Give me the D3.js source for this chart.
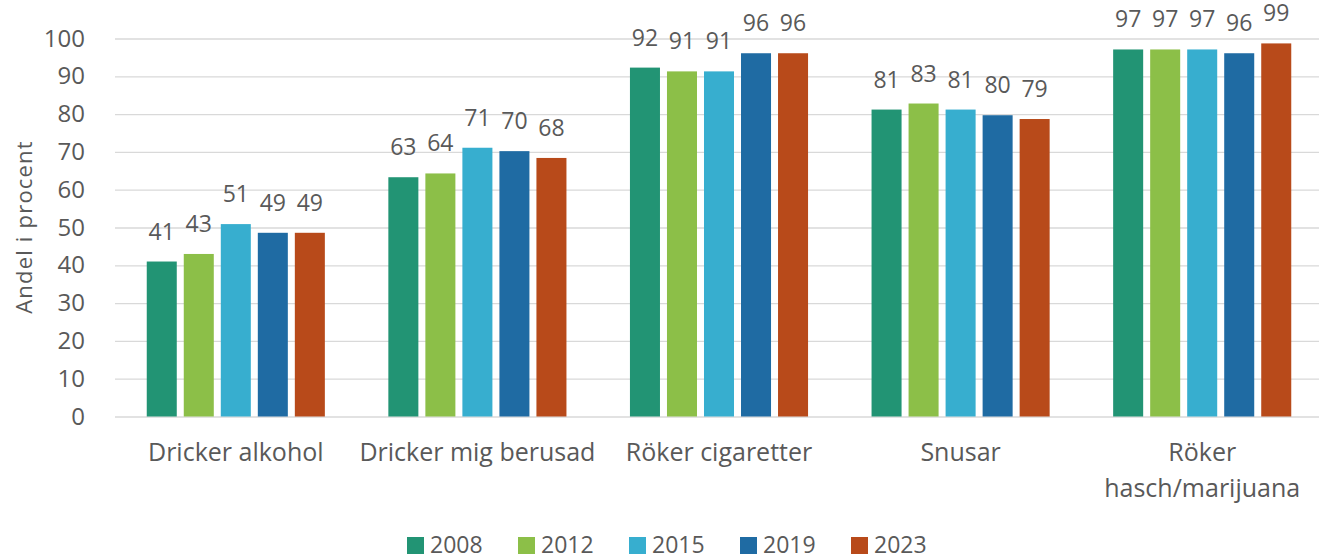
<!DOCTYPE html>
<html>
<head>
<meta charset="utf-8">
<script src="https://cdn.jsdelivr.net/npm/d3@7/dist/d3.min.js"></script>
<style>
  html, body { margin: 0; padding: 0; background: #ffffff; }
  svg { display: block; }
  text { font-family: "Open Sans", "Noto Sans", sans-serif; fill: #595959; }
</style>
</head>
<body>
<svg id="chart" width="1319" height="559"></svg>
<script>
// ---- data ----
const categories = ["Dricker alkohol", "Dricker mig berusad", "Röker cigaretter", "Snusar", "Röker\nhasch/marijuana"];
const years = ["2008", "2012", "2015", "2019", "2023"];
const values2008 = [41, 63.3, 92.3, 81.2, 97.1];
const values2012 = [43, 64.3, 91.3, 82.8, 97.1];
const values2015 = [50.9, 71.1, 91.3, 81.2, 97.1];
const values2019 = [48.6, 70.2, 96.1, 79.7, 96.1];
const values2023 = [48.6, 68.4, 96.1, 78.7, 98.7];
const seriesValues = [values2008, values2012, values2015, values2019, values2023];
const colors = ["#229474", "#8cbf48", "#37aecf", "#1f6ba3", "#b84a1a"];
const yTicks = [0, 10, 20, 30, 40, 50, 60, 70, 80, 90, 100];
const yTitle = "Andel i procent";

// ---- layout ----
const svg = d3.select("#chart");
const plotLeft = 115, plotRight = 1323, plotTop = 38.5, plotBottom = 416.5;

const x0 = d3.scaleBand().domain(categories).range([plotLeft, plotRight]).padding(0);
const x1 = d3.scaleBand().domain(years)
  .range([31.75, x0.bandwidth() - 31.75]).paddingInner(7 / 37).paddingOuter(0);
const y = d3.scaleLinear().domain([0, 100]).range([plotBottom, plotTop]);

// gridlines + y tick labels
const yAxis = svg.append("g")
  .attr("transform", `translate(${plotLeft},0)`)
  .call(d3.axisLeft(y).tickValues(yTicks).tickSize(-(1319 - plotLeft)).tickPadding(30));
yAxis.select(".domain").remove();
yAxis.selectAll(".tick line").attr("stroke", "#d9d9d9").attr("stroke-width", 1.3);
yAxis.selectAll(".tick text")
  .attr("fill", "#595959").style("font-size", "24px")
  .style("font-family", '"Open Sans", "Noto Sans", sans-serif');

// y title
svg.append("text")
  .attr("transform", `translate(32,${(137 + 317) / 2}) rotate(-90)`)
  .attr("text-anchor", "middle")
  .style("font-size", "22px").style("letter-spacing", "1.2px")
  .text(yTitle);

// bars
const groups = svg.append("g").selectAll("g")
  .data(categories)
  .join("g")
  .attr("transform", d => `translate(${x0(d)},0)`);

groups.selectAll("rect")
  .data((d, ci) => years.map((yr, si) => ({ yr, si, v: seriesValues[si][ci] })))
  .join("rect")
  .attr("x", d => x1(d.yr))
  .attr("width", x1.bandwidth())
  .attr("y", d => y(d.v))
  .attr("height", d => y(0) - y(d.v))
  .attr("fill", d => colors[d.si]);

groups.selectAll("text.lbl")
  .data((d, ci) => years.map((yr, si) => ({ yr, si, v: seriesValues[si][ci] })))
  .join("text")
  .attr("class", "lbl")
  .attr("x", d => x1(d.yr) + x1.bandwidth() / 2)
  .attr("y", d => y(d.v) - 22)
  .attr("text-anchor", "middle")
  .style("font-size", "23px")
  .text(d => d3.format(".0f")(d.v));

// x axis labels
const xAxis = svg.append("g")
  .attr("transform", `translate(0,${plotBottom})`)
  .call(d3.axisBottom(x0).tickSize(0).tickFormat(""));
xAxis.select(".domain").remove();
xAxis.selectAll(".tick").each(function(d) {
  const lines = d.split("\n");
  const t = d3.select(this).append("text")
    .attr("text-anchor", "middle")
    .attr("fill", "#595959")
    .style("font-size", "25px");
  lines.forEach((ln, i) => {
    t.append("tspan").attr("x", 0).attr("y", 44.5 + i * 35.5).text(ln);
  });
});

// legend
const legend = svg.append("g").selectAll("g")
  .data(years)
  .join("g")
  .attr("transform", (d, i) => `translate(${407 + i * 111},0)`);
legend.append("rect")
  .attr("x", 0).attr("y", 537).attr("width", 17).attr("height", 17)
  .attr("fill", (d, i) => colors[i]);
legend.append("text")
  .attr("x", 23).attr("y", 553)
  .style("font-size", "23px")
  .text(d => d);
</script>
</body>
</html>
